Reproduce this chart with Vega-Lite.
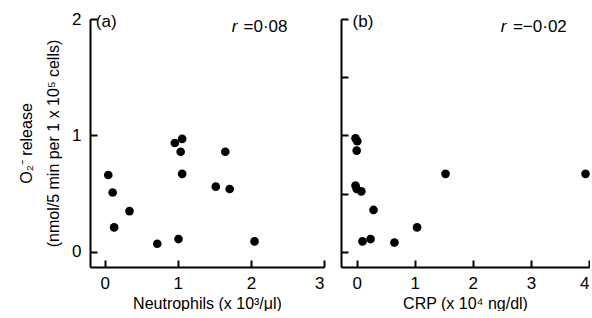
{
  "$schema": "https://vega.github.io/schema/vega-lite/v6.json",
  "background": "white",
  "padding": {"left": 18, "top": 10, "right": 0, "bottom": 0},
  "spacing": 15,
  "config": {
    "view": {"stroke": null},
    "font": "Liberation Sans",
    "axis": {
      "domainColor": "black", "domainWidth": 2,
      "tickColor": "black", "tickWidth": 2, "tickSize": -7, "zindex": 1,
      "labelColor": "black", "labelFontSize": 17, "labelFont": "Liberation Sans",
      "titleColor": "black", "titleFontSize": 16, "titleFontWeight": "normal", "titleFont": "Liberation Sans",
      "grid": false
    }
  },
  "datasets": {
    "a": [
      {"x": 0.05, "y": 0.66}, {"x": 0.11, "y": 0.51}, {"x": 0.13, "y": 0.21}, {"x": 0.34, "y": 0.35},
      {"x": 0.72, "y": 0.07}, {"x": 0.96, "y": 0.935}, {"x": 1.06, "y": 0.97}, {"x": 1.04, "y": 0.86},
      {"x": 1.06, "y": 0.67}, {"x": 1.01, "y": 0.11}, {"x": 1.52, "y": 0.56}, {"x": 1.65, "y": 0.86},
      {"x": 1.71, "y": 0.54}, {"x": 2.05, "y": 0.09}
    ],
    "b": [
      {"x": -0.02, "y": 0.975}, {"x": 0.01, "y": 0.95}, {"x": 0.0, "y": 0.87}, {"x": -0.02, "y": 0.57},
      {"x": 0.0, "y": 0.54}, {"x": 0.08, "y": 0.52}, {"x": 0.29, "y": 0.36}, {"x": 0.10, "y": 0.09},
      {"x": 0.24, "y": 0.11}, {"x": 0.65, "y": 0.08}, {"x": 1.04, "y": 0.21}, {"x": 1.53, "y": 0.67},
      {"x": 3.94, "y": 0.67}
    ],
    "ta": [{"x": -0.12, "y": 1.97, "t": "(a)"}, {"x": 1.9, "y": 1.93, "t": "=0·08"}],
    "ra": [{"x": 1.74, "y": 1.93, "t": "r"}],
    "tb": [{"x": -0.07, "y": 1.97, "t": "(b)"}, {"x": 2.69, "y": 1.93, "t": "=−0·02"}],
    "rb": [{"x": 2.48, "y": 1.93, "t": "r"}]
  },
  "hconcat": [
    {
      "width": 234, "height": 248,
      "layer": [
        {
          "data": {"name": "a"},
          "mark": {"type": "circle", "size": 75, "color": "black", "opacity": 1},
          "encoding": {
            "x": {"field": "x", "type": "quantitative",
                  "scale": {"domain": [-0.2, 3], "nice": false, "zero": false},
                  "axis": {"values": [0, 1, 2, 3], "format": "d", "title": "Neutrophils (x 10³/μl)", "labelPadding": 15, "titlePadding": 4}},
            "y": {"field": "y", "type": "quantitative",
                  "scale": {"domain": [-0.13, 2], "nice": false, "zero": false},
                  "axis": {"values": [0, 0.5, 1, 1.5, 2], "format": "d", "labelExpr": "datum.value % 1 === 0 ? datum.label : ''",
                           "title": ["O₂⁻ release", "(nmol/5 min per 1 x 10⁵ cells)"], "titleLineHeight": 27,
                           "labelPadding": 16, "titlePadding": 10}}
          }
        },
        {
          "data": {"name": "ta"},
          "mark": {"type": "text", "align": "left", "baseline": "middle", "fontSize": 17, "color": "black"},
          "encoding": {"x": {"field": "x", "type": "quantitative"}, "y": {"field": "y", "type": "quantitative"}, "text": {"field": "t"}}
        },
        {
          "data": {"name": "ra"},
          "mark": {"type": "text", "align": "left", "baseline": "middle", "fontSize": 17, "fontStyle": "italic", "color": "black"},
          "encoding": {"x": {"field": "x", "type": "quantitative"}, "y": {"field": "y", "type": "quantitative"}, "text": {"field": "t"}}
        }
      ]
    },
    {
      "width": 248, "height": 248,
      "layer": [
        {
          "data": {"name": "b"},
          "mark": {"type": "circle", "size": 75, "color": "black", "opacity": 1},
          "encoding": {
            "x": {"field": "x", "type": "quantitative",
                  "scale": {"domain": [-0.27, 4], "nice": false, "zero": false},
                  "axis": {"values": [0, 1, 2, 3, 4], "format": "d", "title": "CRP  (x 10⁴ ng/dl)", "labelPadding": 15, "titlePadding": 4}},
            "y": {"field": "y", "type": "quantitative",
                  "scale": {"domain": [-0.13, 2], "nice": false, "zero": false},
                  "axis": {"values": [0, 0.5, 1, 1.5, 2], "labels": false, "title": null}}
          }
        },
        {
          "data": {"name": "tb"},
          "mark": {"type": "text", "align": "left", "baseline": "middle", "fontSize": 17, "color": "black"},
          "encoding": {"x": {"field": "x", "type": "quantitative"}, "y": {"field": "y", "type": "quantitative"}, "text": {"field": "t"}}
        },
        {
          "data": {"name": "rb"},
          "mark": {"type": "text", "align": "left", "baseline": "middle", "fontSize": 17, "fontStyle": "italic", "color": "black"},
          "encoding": {"x": {"field": "x", "type": "quantitative"}, "y": {"field": "y", "type": "quantitative"}, "text": {"field": "t"}}
        }
      ]
    }
  ]
}
